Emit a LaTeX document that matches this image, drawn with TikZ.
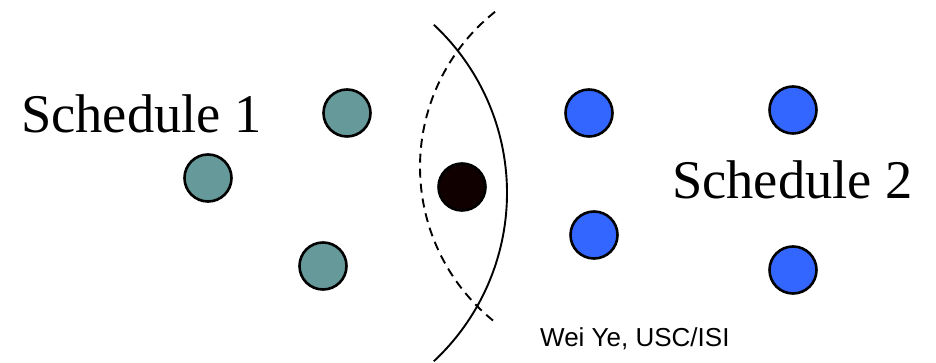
\documentclass[tikz,border=0pt]{standalone}
\usepackage{fontspec}
\setmainfont{Liberation Serif}
\newfontfamily\arialfont{Liberation Sans}
\definecolor{tealc}{RGB}{102,153,153}
\definecolor{bluec}{RGB}{51,102,255}
\definecolor{darkc}{RGB}{17,0,0}
\begin{document}
\begin{tikzpicture}[x=1pt,y=1pt,
  dot/.style={circle,draw=black,line width=2.6pt,minimum size=47pt,inner sep=0pt},
  sched/.style={anchor=base west,inner sep=0pt,font=\fontsize{54.5}{60}\selectfont},
  credit/.style={anchor=base west,inner sep=0pt,font=\arialfont\fontsize{26}{30}\selectfont}]
\useasboundingbox (0,0) rectangle (936,363);
% teal nodes (schedule 1)
\node[dot,fill=tealc] (t1) at (347,250) {};
\node[dot,fill=tealc] (t2) at (208,185) {};
\node[dot,fill=tealc] (t3) at (323,97) {};
% border node
\node[dot,fill=darkc] (b) at (462,176) {};
% blue nodes (schedule 2)
\node[dot,fill=bluec] (u1) at (589,250) {};
\node[dot,fill=bluec] (u2) at (793,253) {};
\node[dot,fill=bluec] (u3) at (594,128) {};
\node[dot,fill=bluec] (u4) at (793,93) {};
% arcs
\coordinate (sc) at (277,170);
\draw[line width=1.9pt] (sc) ++(-47:230) arc[start angle=-47,end angle=47,radius=230];
\coordinate (dc) at (618,196);
\draw[line width=1.9pt,dash pattern=on 9pt off 6pt] (dc) ++(128.4:198) arc[start angle=128.4,end angle=231.2,radius=198];
% labels
\node[sched] (s1) at (21,230) {Schedule 1};
\node[sched] (s2) at (672,164) {Schedule 2};
\node[credit] (c) at (540,16) {Wei Ye, USC/ISI};
\end{tikzpicture}
\end{document}
